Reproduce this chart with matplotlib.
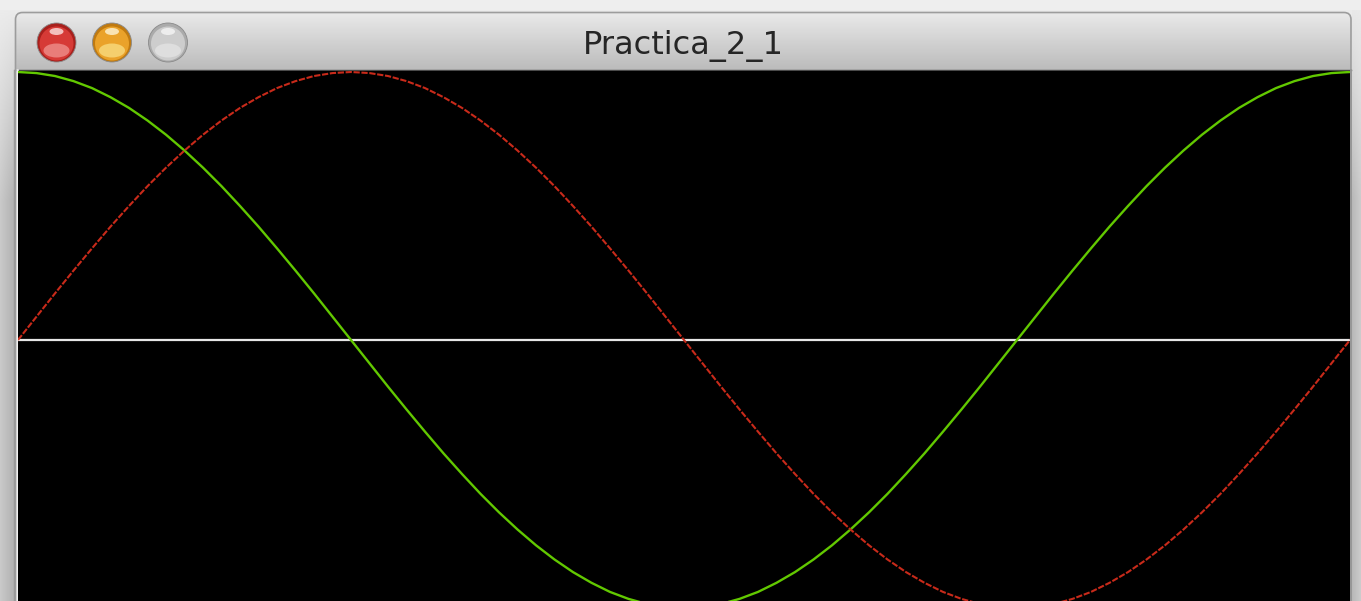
import numpy as np
import matplotlib
matplotlib.use("Agg")
import matplotlib.pyplot as plt
from matplotlib.patches import FancyBboxPatch, Circle, Ellipse, Rectangle

# ---- data (one full period, every 5 degrees) ----
red_values = [0.000, 0.087, 0.174, 0.259, 0.342, 0.423, 0.500, 0.574, 0.643, 0.707, 0.766, 0.819,
              0.866, 0.906, 0.940, 0.966, 0.985, 0.996, 1.000, 0.996, 0.985, 0.966, 0.940, 0.906,
              0.866, 0.819, 0.766, 0.707, 0.643, 0.574, 0.500, 0.423, 0.342, 0.259, 0.174, 0.087,
              0.000, -0.087, -0.174, -0.259, -0.342, -0.423, -0.500, -0.574, -0.643, -0.707, -0.766, -0.819,
              -0.866, -0.906, -0.940, -0.966, -0.985, -0.996, -1.000, -0.996, -0.985, -0.966, -0.940, -0.906,
              -0.866, -0.819, -0.766, -0.707, -0.643, -0.574, -0.500, -0.423, -0.342, -0.259, -0.174, -0.087,
              0.000]
green_values = [1.000, 0.996, 0.985, 0.966, 0.940, 0.906, 0.866, 0.819, 0.766, 0.707, 0.643, 0.574,
                0.500, 0.423, 0.342, 0.259, 0.174, 0.087, 0.000, -0.087, -0.174, -0.259, -0.342, -0.423,
                -0.500, -0.574, -0.643, -0.707, -0.766, -0.819, -0.866, -0.906, -0.940, -0.966, -0.985, -0.996,
                -1.000, -0.996, -0.985, -0.966, -0.940, -0.906, -0.866, -0.819, -0.766, -0.707, -0.643, -0.574,
                -0.500, -0.423, -0.342, -0.259, -0.174, -0.087, 0.000, 0.087, 0.174, 0.259, 0.342, 0.423,
                0.500, 0.574, 0.643, 0.707, 0.766, 0.819, 0.866, 0.906, 0.940, 0.966, 0.985, 0.996,
                1.000]
angles = np.linspace(0, 360, len(red_values))
window_title = "Practica_2_1"

W, H = 1361, 601
fig = plt.figure(figsize=(W / 100, H / 100), dpi=100)
fig.patch.set_facecolor("#ebebeb")

# ---- background / window chrome in pixel coordinates ----
bg = fig.add_axes([0, 0, 1, 1])
bg.set_xlim(0, W)
bg.set_ylim(H, 0)
bg.axis("off")

ys = np.linspace(0, 1, 300).reshape(-1, 1)
xs = np.linspace(0, 1, 30).reshape(1, -1)
shade_left = 0.93 - 0.14 * np.clip(ys * 3, 0, 1) - 0.10 * xs * np.clip(ys * 3, 0, 1)
bg.imshow(shade_left, cmap="gray", vmin=0, vmax=1, extent=(0, 15, H, 0), aspect="auto", zorder=0)
shade_right = 0.92 - 0.12 * np.clip(ys * 3, 0, 1) - 0.08 * (1 - xs) * np.clip(ys * 3, 0, 1)
bg.imshow(shade_right, cmap="gray", vmin=0, vmax=1, extent=(1352, W, H, 0), aspect="auto", zorder=0)
bg.add_patch(Rectangle((0, 0), W, 10, facecolor="#eeeeee", edgecolor="none", zorder=0.5))

# window frame with rounded top corners
frame = FancyBboxPatch((15.5, 12.5), 1335.5, 640, boxstyle="round,pad=0,rounding_size=7",
                       facecolor="none", edgecolor="#9c9c9c", linewidth=1.2, zorder=3)
clip_box = FancyBboxPatch((15.5, 12.5), 1335.5, 640, boxstyle="round,pad=0,rounding_size=7",
                          facecolor="none", edgecolor="none", transform=bg.transData)
bg.add_patch(clip_box)
title_grad = np.linspace(0.915, 0.73, 120).reshape(-1, 1)
im = bg.imshow(title_grad, cmap="gray", vmin=0, vmax=1, extent=(15.5, 1351, 71, 12.5),
               aspect="auto", zorder=1)
im.set_clip_path(clip_box)
bg.add_patch(frame)
bg.plot([15.5, 1351], [70.3, 70.3], color="#4a4a4a", lw=1.0, zorder=2)
bg.plot([13.6, 13.6], [70, H], color="#9a9a9a", lw=1.0, zorder=2)
bg.plot([16.8, 16.8], [70, H], color="#f0f0f0", lw=1.8, zorder=2)
bg.plot([1350.8, 1350.8], [70, H], color="#707070", lw=1.2, zorder=2)

# traffic-light buttons
def button(cx, cy, rim, body, low, hi):
    bg.add_patch(Circle((cx, cy), 19.5, facecolor=rim, edgecolor="#8a8a8a", lw=0.6, zorder=4))
    bg.add_patch(Circle((cx, cy + 1), 17.0, facecolor=body, edgecolor="none", zorder=4))
    bg.add_patch(Ellipse((cx, cy + 8), 26, 14, facecolor=low, edgecolor="none", alpha=0.7, zorder=4))
    bg.add_patch(Ellipse((cx, cy - 11), 14, 7, facecolor=hi, edgecolor="none", alpha=0.8, zorder=5))

button(56.5, 42.5, "#a8201c", "#d63a36", "#f29a96", "#fbe2e0")
button(112.0, 42.5, "#c07a10", "#eaa22a", "#fbe38a", "#fdf4d6")
button(168.0, 42.5, "#ababab", "#cdcdcd", "#e6e6e6", "#f6f6f6")

bg.text(683, 53.5, window_title, ha="center", va="baseline", fontsize=23,
        family="DejaVu Sans", color="#262626", zorder=6)

# ---- plot area ----
top_px, bot_px, left_px, right_px = 71.0, 601.0, 18.0, 1350.0
center_px, amp_px = 340.0, 268.0
ax = fig.add_axes([left_px / W, 0, (right_px - left_px) / W, (bot_px - top_px) / H])
ax.set_facecolor("black")
ax.set_xlim(0, 360)
ax.set_ylim(-(bot_px - center_px) / amp_px, (center_px - top_px) / amp_px)
ax.axis("off")
ax.add_patch(Rectangle((0, 0), 1, 1, transform=ax.transAxes, facecolor="black", zorder=0))
ax.axhline(0, color="#e6e6e6", lw=1.6, zorder=2)
ax.plot(angles, green_values, color="#62c800", lw=1.7, zorder=3, solid_capstyle="butt")
ax.plot(angles, red_values, color="#c82a1a", lw=1.5, zorder=4, linestyle=(0, (3, 0.8)))

fig.savefig("out.png", dpi=100, facecolor=fig.get_facecolor())
